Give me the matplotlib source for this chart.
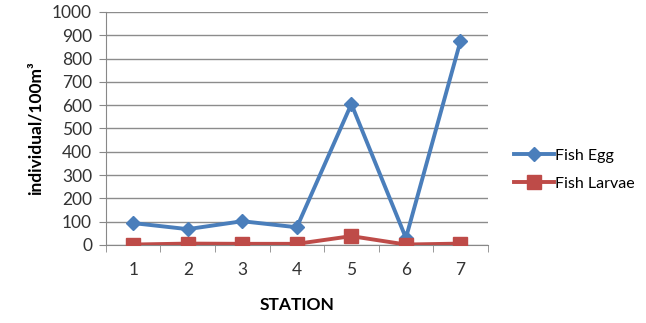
import matplotlib
matplotlib.use("Agg")
import matplotlib.pyplot as plt
from matplotlib.ticker import FixedLocator

stations = [1, 2, 3, 4, 5, 6, 7]
fish_egg = [94, 68, 102, 76, 605, 30, 875]
fish_larvae = [2, 6, 5, 5, 38, 2, 6]
y_ticks = [0, 100, 200, 300, 400, 500, 600, 700, 800, 900, 1000]

plt.rcParams['font.family'] = ['Lato', 'DejaVu Sans']

fig = plt.figure(figsize=(6.46, 3.23), dpi=100)
ax = fig.add_axes([0.164, 0.2415, 0.591, 0.7215])

ax.plot(stations, fish_egg, color='#4A7EBB', lw=2.8, marker='D', ms=7.5,
        label='Fish Egg', zorder=3)
ax.plot(stations, fish_larvae, color='#BE4B48', lw=2.8, marker='s', ms=10.5,
        label='Fish Larvae', zorder=4)

ax.set_xlim(0.5, 7.5)
ax.set_ylim(0, 1000)
ax.set_yticks(y_ticks)
ax.set_xticks(stations)
ax.xaxis.set_minor_locator(FixedLocator([i + 0.5 for i in range(0, 8)]))
ax.tick_params(axis='x', which='major', length=0, pad=12, labelsize=12.5, colors='#333333')
ax.tick_params(axis='x', which='minor', length=5, color='#888888', direction='out')
ax.tick_params(axis='y', length=5, color='#888888', labelsize=12.5, pad=5, colors='#333333')
ax.yaxis.grid(True, color='#8c8c8c', lw=1)
ax.set_axisbelow(True)
for s in ['top', 'right']:
    ax.spines[s].set_visible(False)
ax.spines['left'].set_color('#888888')
ax.spines['bottom'].set_color('#888888')

ax.set_ylabel('individual/100m³', fontsize=12.5, fontweight='bold', labelpad=6)
ax.set_xlabel('STATION', fontsize=12.5, fontweight='bold', labelpad=14)

fig.legend(loc='center left', bbox_to_anchor=(0.774, 0.475), frameon=False,
           fontsize=11.5, handlelength=2.5, handletextpad=0.05, labelspacing=0.85)

fig.savefig('out.png', dpi=100)
